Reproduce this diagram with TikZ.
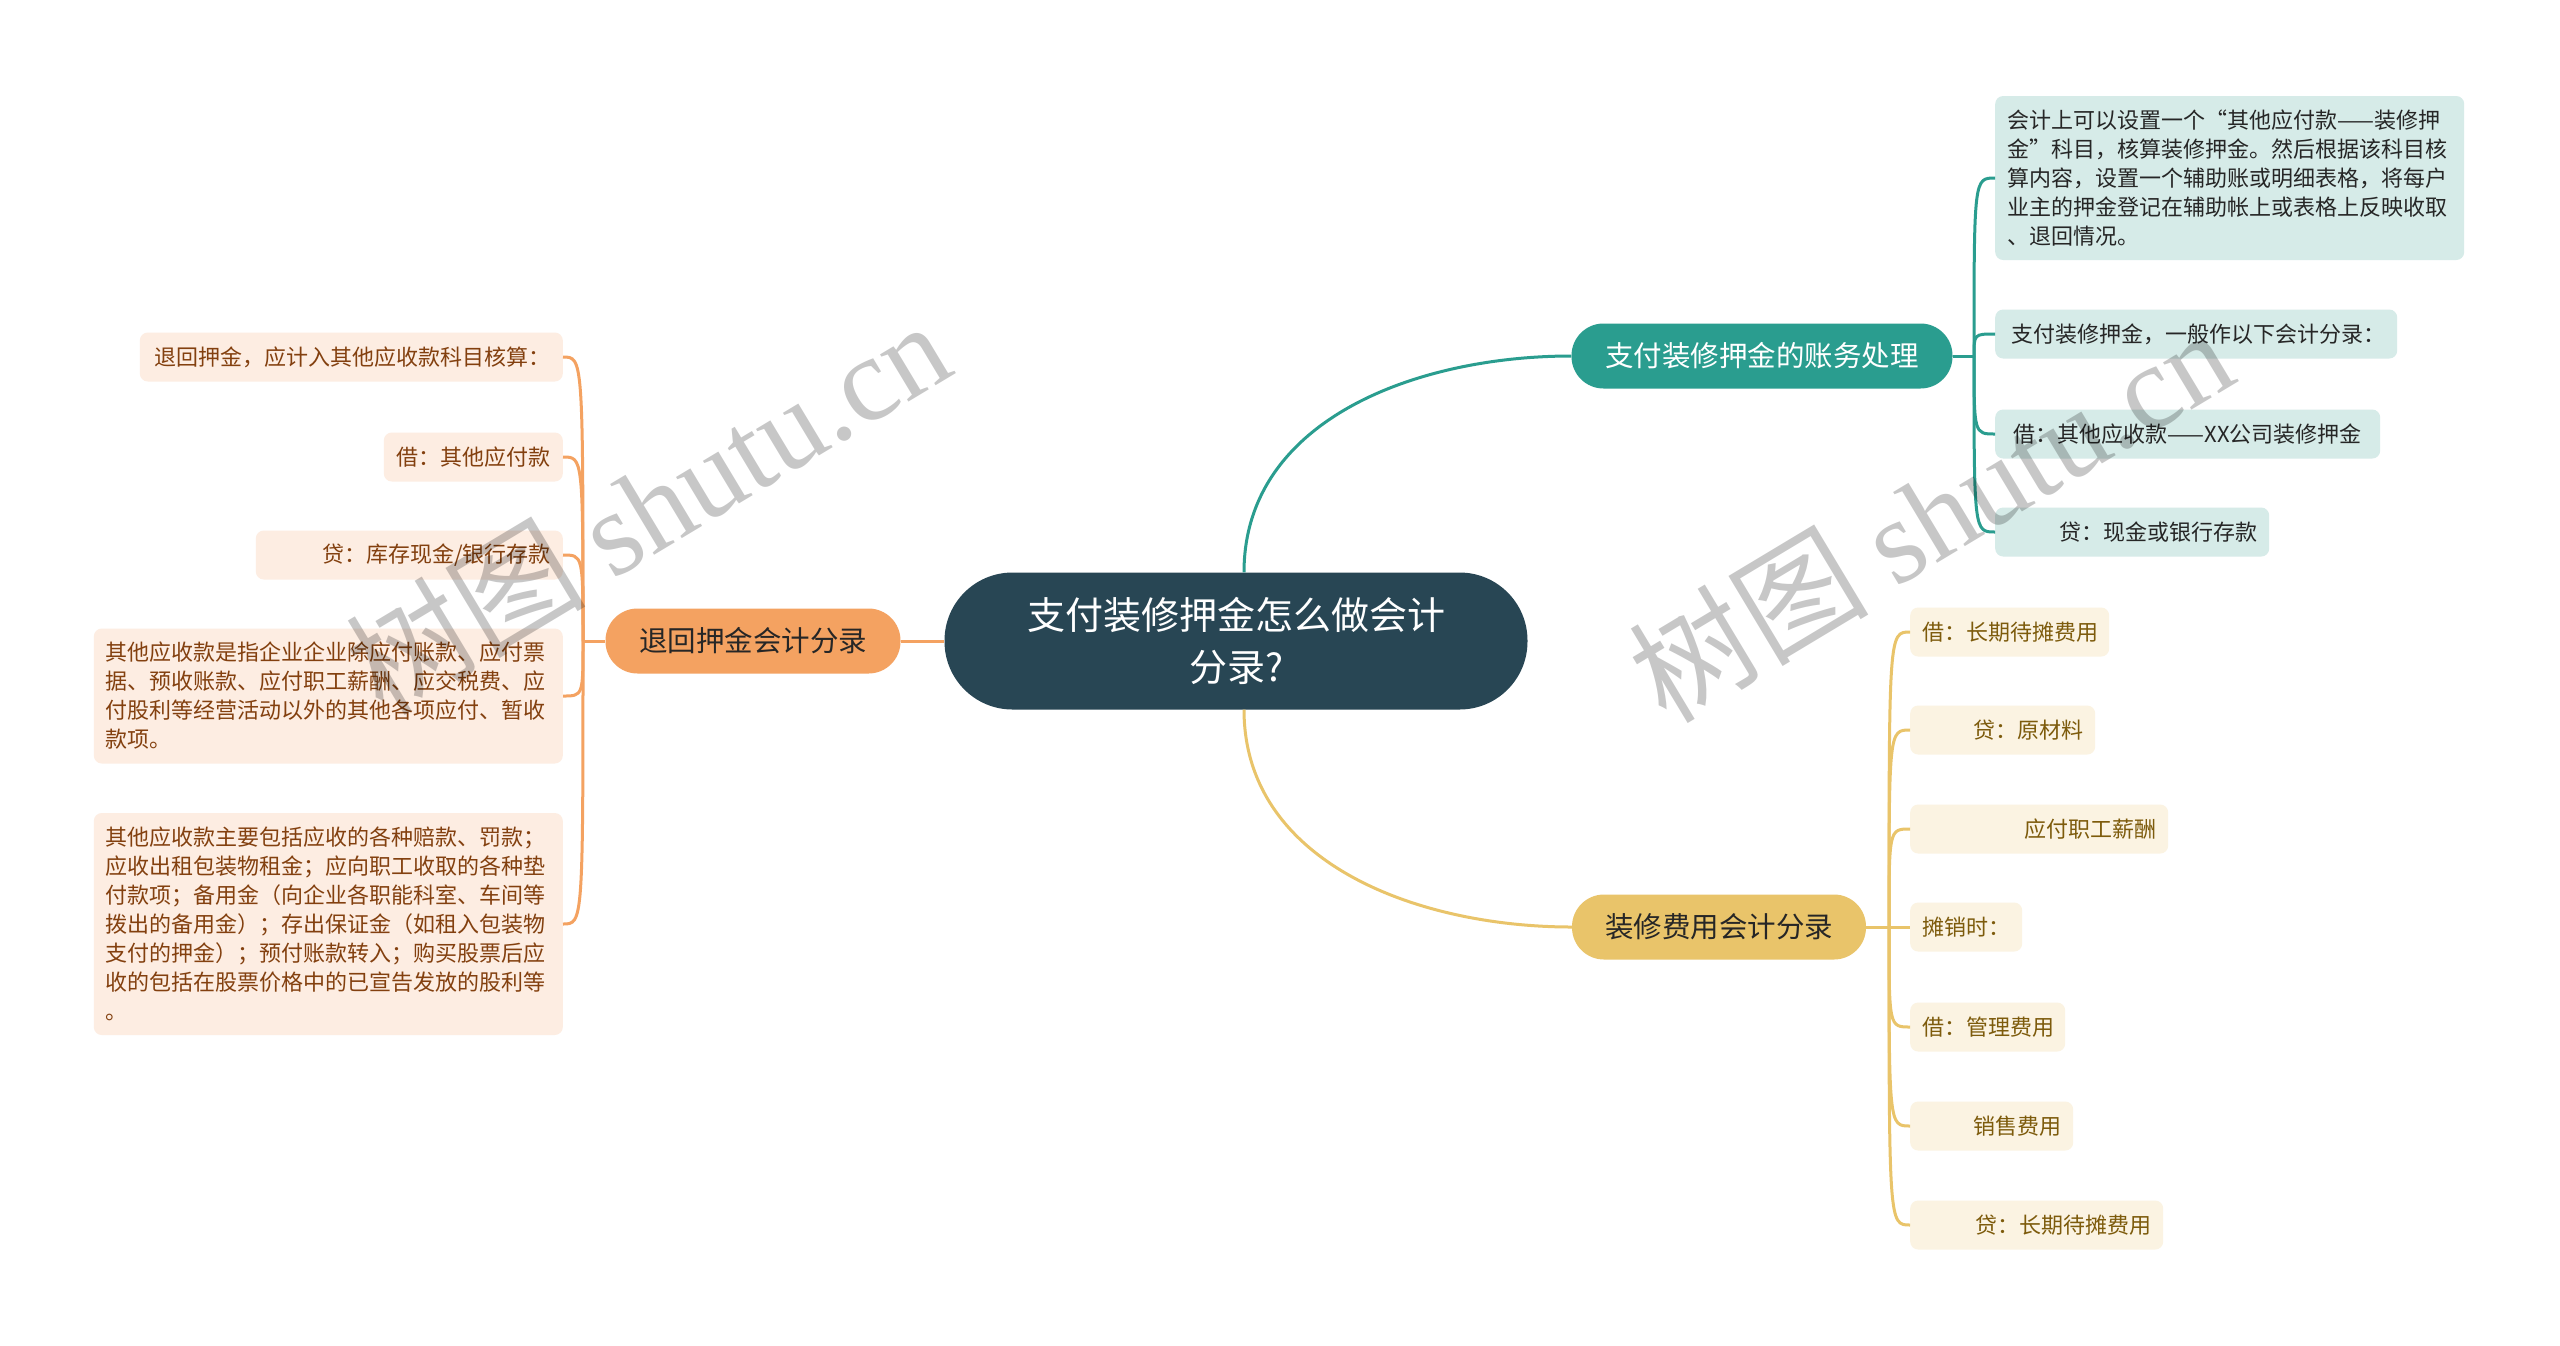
\documentclass[tikz,border=0pt]{standalone}
\usepackage{fontspec}
\setmainfont{Noto Sans CJK SC}
\newfontfamily\wmlatin{Liberation Serif}
\usepackage{xcolor}
\usepackage{tikz}
\definecolor{rootc}{HTML}{284654}
\definecolor{tealc}{HTML}{2A9D8F}
\definecolor{goldc}{HTML}{E9C46A}
\definecolor{orngc}{HTML}{F4A261}
\definecolor{tealbg}{HTML}{D6EBE8}
\definecolor{goldbg}{HTML}{FBF3E2}
\definecolor{orngbg}{HTML}{FDEDE2}
\definecolor{goldtx}{HTML}{7D5B0C}
\definecolor{orngtx}{HTML}{83400F}

\begin{document}
\begin{tikzpicture}[x=1pt,y=-1pt,
    leaf/.style={rounded corners=8pt,inner xsep=12pt,inner ysep=0pt,minimum height=49pt,font=\fontsize{22}{29}\selectfont},
    tleaf/.style={leaf,fill=tealbg,text=black!85,anchor=west},
    gleaf/.style={leaf,fill=goldbg,text=goldtx,anchor=west},
    oleaf/.style={leaf,fill=orngbg,text=orngtx,anchor=east},
    branch/.style={rounded corners=32pt,minimum height=65pt,font=\fontsize{28.5}{34}\selectfont},
    wire/.style={line width=3pt},
    wmark/.style={rotate=31,text=black,opacity=0.22,font=\fontsize{120}{120}\selectfont}]
    \fill[white] (0,0) rectangle (2560,1345);
    \useasboundingbox (0,0) rectangle (2560,1345);

    \node[fill=rootc,text=white,rounded corners=68pt,minimum width=583pt,minimum height=137pt,align=center,font=\fontsize{38}{52}\selectfont] (root) at (1236,641) {支付装修押金怎么做会计\\分录?};
    \node[branch,fill=tealc,text=white,minimum width=381pt] (tb) at (1762,356) {支付装修押金的账务处理};
    \node[branch,fill=goldc,text=black!85,minimum width=294pt] (gb) at (1719,927) {装修费用会计分录};
    \node[branch,fill=orngc,text=black!85,minimum width=295pt] (ob) at (753,641) {退回押金会计分录};

    \draw[wire,orngc] (root.west) -- (ob.east);
    \draw[wire,tealc] ([xshift=8pt]root.north) to[out=90,in=180] (tb.west);
    \draw[wire,goldc] ([xshift=8pt]root.south) to[out=-90,in=180] (gb.west);

    \node[tleaf,text width=445pt,align=left,minimum height=164pt] (tA) at (1995,178) {会计上可以设置一个“其他应付款——装修押\\金”科目，核算装修押金。然后根据该科目核\\算内容，设置一个辅助账或明细表格，将每户\\业主的押金登记在辅助帐上或表格上反映收取\\、退回情况。};
    \node[tleaf,text width=378pt,align=right] (tB) at (1995,334) {支付装修押金，一般作以下会计分录：};
    \node[tleaf,text width=361pt,align=center] (tC) at (1995,434) {借：其他应收款——XX公司装修押金};
    \node[tleaf,text width=250pt,align=right] (tD) at (1995,532) {贷：现金或银行存款};
    \coordinate (ts) at (1974,356);
    \draw[wire,tealc] (tb.east) -- (ts);
    \foreach \l in {tA,tB,tC,tD} \draw[wire,tealc] (ts) .. controls (ts |- \l.west) .. (\l.west);

    \coordinate (gs) at (1889,927);
    \draw[wire,goldc] (gb.east) -- (gs);
    \foreach \n/\y/\w/\t in {1/632/175/借：长期待摊费用,2/730/161/贷：原材料,3/829/234/应付职工薪酬,4/927/88/摊销时：,5/1027/131/借：管理费用,6/1126/139/销售费用,7/1225/229/贷：长期待摊费用} {
      \node[gleaf,text width=\w pt,align=right] (g\n) at (1910,\y) {\t};
      \draw[wire,goldc] (gs) .. controls (gs |- g\n.west) .. (g\n.west);
    }

    \node[oleaf,text width=399pt,align=right] (oA) at (563,357) {退回押金，应计入其他应收款科目核算：};
    \node[oleaf,text width=155pt,align=right] (oB) at (563,457) {借：其他应付款};
    \node[oleaf,text width=283pt,align=right] (oC) at (563,555) {贷：库存现金/银行存款};
    \node[oleaf,text width=445pt,align=left,minimum height=135pt] (oD) at (563,696) {其他应收款是指企业企业除应付账款、应付票\\据、预收账款、应付职工薪酬、应交税费、应\\付股利等经营活动以外的其他各项应付、暂收\\款项。};
    \node[oleaf,text width=445pt,align=left,minimum height=222pt] (oE) at (563,924) {其他应收款主要包括应收的各种赔款、罚款；\\应收出租包装物租金；应向职工收取的各种垫\\付款项；备用金（向企业各职能科室、车间等\\拨出的备用金）；存出保证金（如租入包装物\\支付的押金）；预付账款转入；购买股票后应\\收的包括在股票价格中的已宣告发放的股利等\\。};
    \coordinate (os) at (583,641);
    \draw[wire,orngc] (ob.west) -- (os);
    \foreach \l in {oA,oB,oC,oD,oE} \draw[wire,orngc] (os) .. controls (os |- \l.east) .. (\l.east);

    \node[wmark] (wmL) at (647,506) {树图 {\wmlatin shutu.cn}};
    \node[wmark] (wmR) at (1930,514) {树图 {\wmlatin shutu.cn}};
  \end{tikzpicture}
\end{document}
